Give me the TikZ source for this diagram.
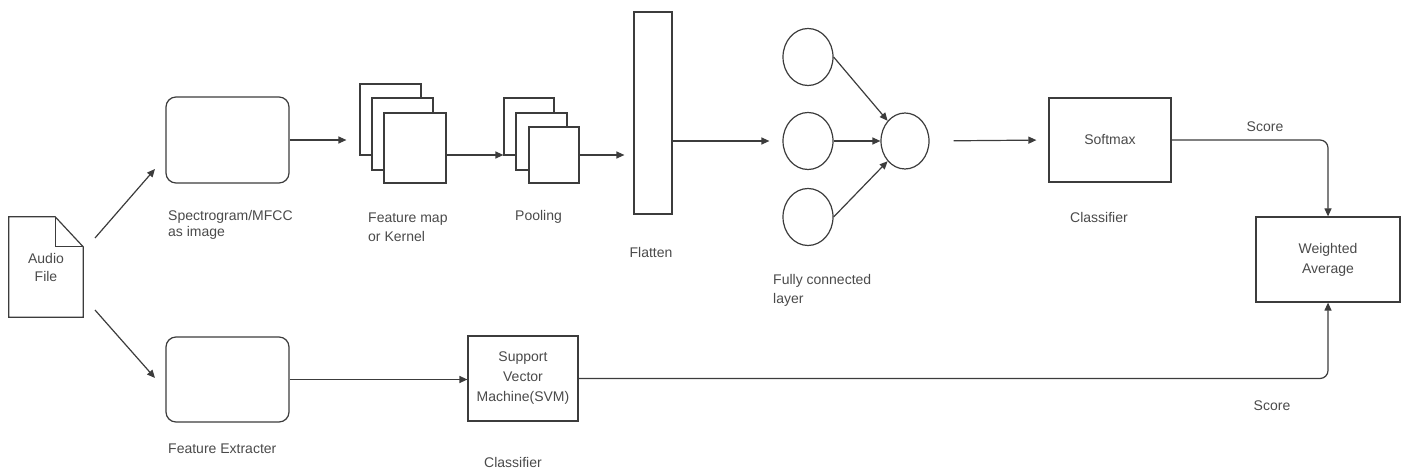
\documentclass[tikz,border=0pt]{standalone}
\usepackage{fontspec}
\setmainfont{Liberation Sans}
\usetikzlibrary{arrows.meta,shapes.geometric,calc}
\definecolor{ln}{HTML}{3C3C3C}
\definecolor{tx}{HTML}{4A4A4A}
\begin{document}
\begin{tikzpicture}[x=1pt,y=-1pt,
  every node/.style={font=\fontsize{14}{18}\selectfont, text=tx},
  box/.style={draw=ln, line width=1.2pt, fill=white, inner sep=0pt},
  rbox/.style={box, rounded corners=10pt},
  neuron/.style={ellipse, draw=ln, line width=1.2pt, inner sep=0pt},
  lbl/.style={inner sep=0pt, align=left},
  arr/.style={draw=ln, line width=1.2pt, -{Triangle[length=8pt,width=7pt]}},
  plain/.style={draw=ln, line width=1.2pt}
]
\useasboundingbox (0,0) rectangle (1407,470);

% Audio file
\node[lbl, align=center, minimum width=74pt, minimum height=100pt] (audio) at (46,267) {Audio\\File};
\draw[plain, line join=miter] (audio.south west) -- (audio.north west) -- ([xshift=-28pt]audio.north east) -- ([yshift=-30pt]audio.north east) -- (audio.south east) -- cycle;
\draw[plain] ([xshift=-28pt]audio.north east) -- ([xshift=-28pt,yshift=-30pt]audio.north east) -- ([yshift=-30pt]audio.north east);

% Spectrogram and feature extractor
\node[rbox, minimum width=123pt, minimum height=86pt] (spec) at (227.5,140) {};
\node[lbl, anchor=west, font=\fontsize{14}{16}\selectfont] (specl) at (168,225) {Spectrogram/MFCC\\as image};
\node[rbox, minimum width=123pt, minimum height=85pt] (fext) at (227.5,379.5) {};
\node[lbl, anchor=west] (fextl) at (168,449) {Feature Extracter};

\coordinate (as1) at (95,238);
\coordinate (ae1) at (155,169);
\coordinate (as2) at (95,310);
\coordinate (ae2) at (155,378);
\draw[arr] (as1) -- (ae1);
\draw[arr] (as2) -- (ae2);

% Feature maps
\node[box, minimum width=61pt, minimum height=71pt] (fm1) at (390.5,119.5) {};
\node[box, minimum width=61pt, minimum height=72pt] (fm2) at (402.5,134) {};
\node[box, minimum width=62pt, minimum height=70pt] (fm3) at (415,148) {};
\node[lbl, anchor=west, font=\fontsize{14}{19}\selectfont] (fml) at (368,227) {Feature map\\or Kernel};

% Pooling
\node[box, minimum width=50pt, minimum height=57pt] (p1) at (529,126.5) {};
\node[box, minimum width=51pt, minimum height=57pt] (p2) at (541.5,141.5) {};
\node[box, minimum width=50pt, minimum height=56pt] (p3) at (554,155) {};
\node[lbl, anchor=west] (pl) at (515,217) {Pooling};

% Flatten
\node[box, minimum width=38pt, minimum height=202pt] (flat) at (653,113) {};
\node[lbl] (flatl) at (651,252) {Flatten};

% Neurons
\node[neuron, minimum width=50pt, minimum height=57pt] (c1) at (808,57) {};
\node[neuron, minimum width=50pt, minimum height=57pt] (c2) at (808,141) {};
\node[neuron, minimum width=50pt, minimum height=57pt] (c3) at (808,217) {};
\node[neuron, minimum width=48pt, minimum height=56pt] (out) at (905,141) {};
\node[lbl, anchor=west, font=\fontsize{14}{19}\selectfont] (fcl) at (773,290) {Fully connected\\layer};

% Softmax
\node[box, minimum width=122pt, minimum height=84pt] (soft) at (1110,140) {Softmax};
\node[lbl, anchor=west] (softl) at (1070,217) {Classifier};

% SVM
\node[box, align=center, font=\fontsize{14}{20}\selectfont, minimum width=110pt, minimum height=85pt] (svm) at (523,378.5) {Support\\Vector\\Machine(SVM)};
\node[lbl] (svml) at (513,462) {Classifier};

% Weighted average
\node[box, align=center, font=\fontsize{14}{20}\selectfont, minimum width=144pt, minimum height=85pt] (wa) at (1328,259.5) {Weighted\\Average};

% Connectors
\draw[arr, shorten >=13pt] (spec.east) -- (spec.east -| fm1.west);
\draw[arr] ([yshift=-7pt]fm3.east) -- ([yshift=-7pt]fm3.east -| p1.west);
\draw[arr, shorten >=9pt] (p3.east) -- (p3.east -| flat.west);
\draw[arr, shorten >=13pt] (flat.east |- c2.west) -- (c2.west);
\draw[arr] (c1.east) -- (out.north west);
\draw[arr] (c2.east) -- (out.west);
\draw[arr] (c3.east) -- (out.south west);
\draw[arr, shorten <=24pt, shorten >=12pt] (out.east) -- (soft.west);
\draw[arr] (fext.east) -- (fext.east -| svm.west);
\draw[arr, rounded corners=8pt] (soft.east) -- (soft.east -| wa.north) -- (wa.north);
\draw[arr, rounded corners=8pt] (svm.east) -- (svm.east -| wa.south) -- (wa.south);

\node[lbl] (s1) at (1265,127) {Score};
\node[lbl] (s2) at (1272,406) {Score};
\end{tikzpicture}
\end{document}
